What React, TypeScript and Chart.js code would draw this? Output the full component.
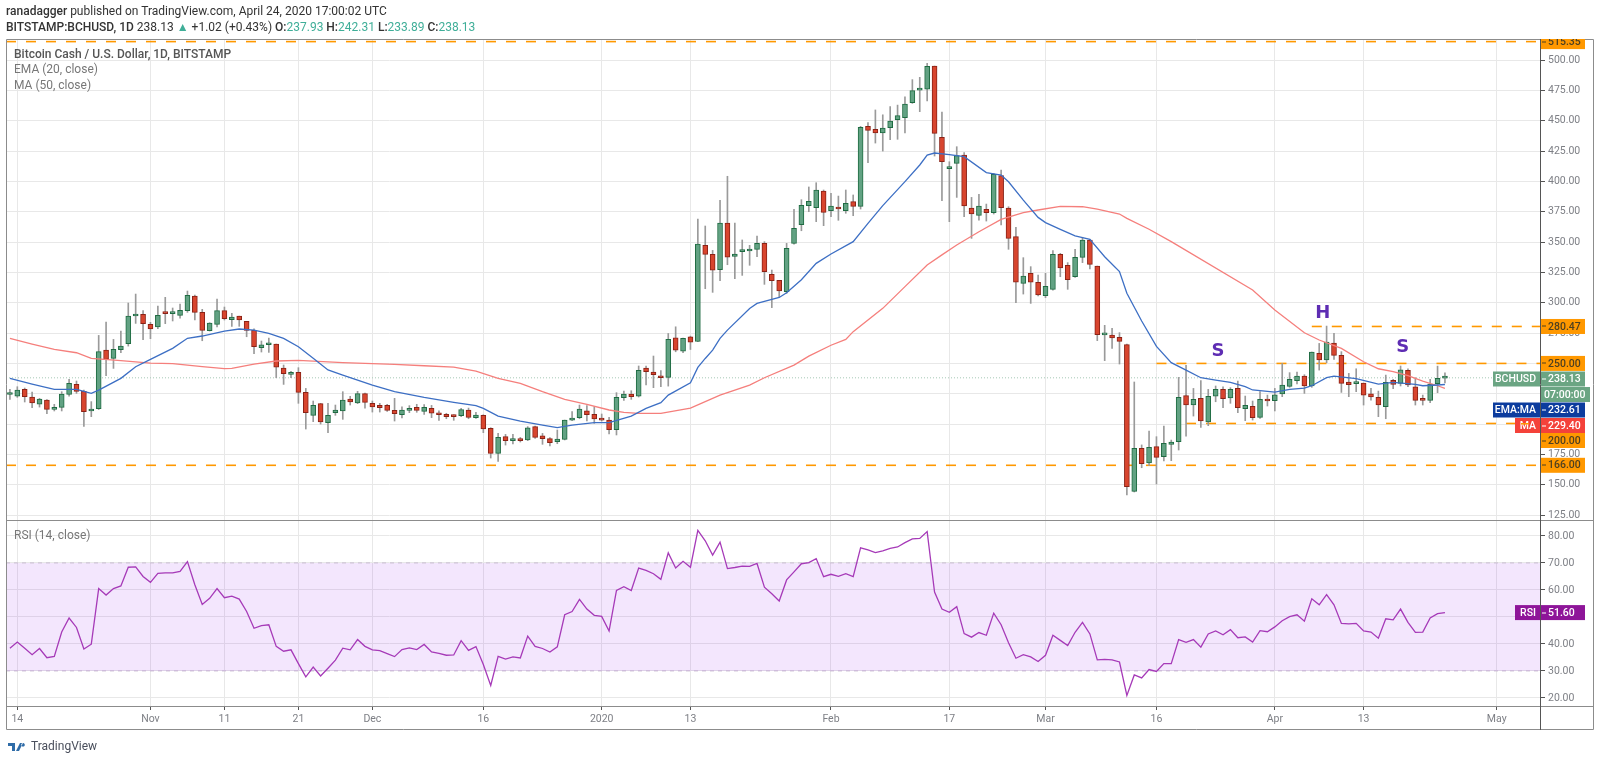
import React, { useEffect, useRef } from 'react'
import { Chart, registerables } from 'chart.js'

Chart.register(...registerables)

// day 0 is 14 Oct 2019, one candle per day
const firstDay = -1
const opens = [
  224.4, 223.1, 228.6, 222.3, 216.5, 219.8, 212.1, 213.8, 224.5, 232.7, 227,
  210.8, 212.7, 261, 254.2, 261.3, 266.3, 289.1, 290.5, 282.2, 280,
  292.1, 291, 289.6, 293.5, 305.6, 292.1, 277, 282.2, 293.5, 286,
  289, 284.7, 277.3, 263, 265.4, 266, 246.2, 241, 242.6, 226.1,
  207.2, 216.8, 201.1, 209.4, 210.8, 220.7, 217.4, 225.1, 217.1, 215.4,
  215.4, 211.3, 207.7, 211.3, 213.8, 210.5, 213, 208.9, 208, 207.2,
  206.9, 211.6, 205.3, 207.2, 196.5, 175.9, 189.6, 186.3, 187.7, 186.9,
  197.9, 190.2, 188, 185.5, 187.4, 203.3, 205.3, 211, 208, 204.2,
  203.3, 195.4, 221.8, 224.8, 223.1, 246.2, 242.9, 239.6, 238.5, 271.2,
  260.2, 272, 268.1, 347.4, 339.9, 327.3, 365.8, 338.3, 342.1, 342.7,
  344.1, 349, 323.5, 318.5, 309.2, 349, 364.4, 380, 378.4, 392.2,
  376, 378.2, 376, 383.4, 379.5, 445.5, 443, 440, 444.4, 451,
  452.6, 465, 475.4, 476.2, 495.2, 436.4, 410.6, 415, 421.8, 378.1,
  372.1, 377, 374.3, 404.8, 378.1, 354.5, 316, 324.3, 316.9, 305.9,
  311.1, 339.9, 330.9, 321.5, 337.5, 351.8, 330.3, 273.5, 273.4, 271.5,
  265.5, 144.5, 180, 167.9, 181.4, 173.1, 183.3, 185.5, 223.4, 215.7,
  221.2, 201.7, 223.1, 228.6, 221.5, 229.4, 212.7, 214.6, 205.5, 220.6,
  219.3, 224.8, 231.1, 235.8, 239.6, 231.4, 258.3, 252.8, 266.8, 256.6,
  234.7, 233.3, 233.8, 225, 222, 214.3, 236, 233.6, 244.3, 230.8,
  220.4, 219.5, 233.3, 237.93,
]
const closes = [
  224.6, 228.1, 222.6, 217.4, 220.7, 212.1, 213.2, 224.8, 233.6, 227, 210.2,
  212.4, 259.7, 253.4, 261.6, 264.3, 289.1, 290.7, 282.8, 278.4, 289.6,
  291, 291.6, 293.7, 306.1, 292.1, 277.3, 283.3, 293.5, 286.9, 288.3,
  285.8, 277.3, 263.8, 265.4, 266.5, 247, 241.5, 242.6, 226.1, 209.4,
  215.4, 201.7, 207.2, 211.6, 219.8, 218.2, 225.1, 217.9, 214.1, 213.5,
  211.3, 208.6, 211.6, 212.4, 211.3, 213.8, 208.9, 207.7, 206.1, 206.1,
  211.9, 205.5, 207.5, 195.9, 175.9, 189, 186.3, 187.7, 186.3, 196.8,
  189, 188, 184.7, 187.7, 203.3, 205, 212.4, 207.7, 204.2, 203.3,
  195.4, 222, 224.8, 222.6, 244.3, 243.2, 240.7, 238.2, 269.8, 261,
  270.6, 267.6, 348.4, 339.9, 326.8, 365.8, 337.7, 340.2, 343.8, 343,
  349, 325.7, 318.2, 309.7, 344.9, 361.4, 380.3, 383.6, 393, 374.6,
  379.8, 377.3, 382, 379.5, 444.6, 442.2, 440, 444.1, 449.9, 454.3,
  463.9, 474.9, 476.2, 495, 439.7, 416.3, 412.2, 421.3, 379.8, 373.2,
  379.8, 374.3, 405.9, 378.4, 353.1, 316.9, 322.1, 317.1, 306.4, 313.6,
  339.9, 328.7, 319.1, 337.5, 351.8, 331.7, 273.7, 274.4, 271, 268.2,
  148.3, 180, 167.4, 180.8, 172.6, 184.1, 185.2, 222, 215.7, 220.4,
  202.5, 222.8, 228.6, 220.9, 228.6, 213.5, 215.4, 205.3, 220.4, 219,
  224.2, 232.2, 236.9, 239.6, 231.4, 259.4, 252.8, 267.6, 256.6, 233.6,
  232.5, 233.8, 223.9, 222.3, 215.7, 234.4, 232.7, 244.8, 232.2, 219.5,
  219.6, 233, 237.7, 238.13,
]
const highs = [
  228.6, 230.8, 229.7, 226.4, 221.2, 220.1, 216.3, 226.7, 236.9, 235.5, 228.1,
  218.5, 273.1, 284.1, 269.8, 276.7, 299.8, 307.2, 293.5, 283.9, 297.3,
  304.5, 295.7, 299, 309.7, 306.4, 294.6, 283.6, 303.1, 296.5, 291.3,
  289, 284.7, 278.6, 268.5, 270.9, 266, 248.7, 243.5, 246.5, 229.4,
  219, 217.1, 217.1, 215.7, 226.7, 222.9, 227, 225.6, 219, 217.1,
  216.3, 221.2, 214.3, 215.2, 216.3, 216, 215.4, 211, 208.9, 207.7,
  213, 213.2, 209.7, 207.7, 197, 192.3, 191.5, 191.5, 189, 197.9,
  198.4, 192.3, 188.8, 195.1, 203.3, 210.2, 215.7, 215.2, 214.3, 208.3,
  205.5, 225.9, 227.3, 227.5, 247.9, 247.9, 256.1, 244, 274.7, 280.2,
  270.8, 272.5, 369, 363.3, 343.2, 384.5, 404.3, 365.8, 351.8, 347.4,
  355.1, 350.4, 327, 318.5, 349, 377, 385, 395.5, 399, 393,
  390.2, 388, 393, 388.9, 445.5, 448.5, 459, 455, 461.7, 463,
  469.9, 484, 485.9, 497.4, 495.2, 457.3, 416.3, 428.7, 423.8, 386.9,
  389.4, 381.4, 406.7, 409.5, 379.2, 362.2, 337.2, 329.8, 322.9, 324.3,
  343, 340.8, 333.1, 344, 354, 352.3, 330.3, 281.4, 278.9, 275.4,
  266, 234.7, 182.8, 194.3, 189.6, 198.4, 186.8, 238.5, 248.4, 229.4,
  235.8, 228.6, 231.4, 230.8, 230, 235.5, 223.1, 219, 226.7, 223.9,
  229.4, 250, 242.4, 242.9, 240.7, 259.4, 266.5, 280.8, 274.8, 259.7,
  241.8, 245.6, 233.8, 229.4, 227.2, 240.4, 236.9, 247.9, 245.6, 238.2,
  223.9, 236.9, 247.8, 242.31,
]
const lows = [
  220.4, 222, 218.2, 213.5, 214, 208.6, 210.8, 210.8, 223.1, 225.3, 198.1,
  206.1, 212, 239.9, 245.9, 258.9, 264.3, 283, 269.6, 270.4, 278.6,
  282.8, 285, 287.4, 292.1, 285.8, 268.7, 276.7, 280, 285.8, 280.6,
  280.6, 272, 258, 259.4, 259.1, 238.2, 232.7, 238.2, 217.1, 195.9,
  202, 200, 192.9, 207.2, 203.9, 215.7, 216.8, 213.2, 209.9, 209.9,
  210.5, 202.5, 205, 209.4, 209.7, 208, 205.3, 203.1, 204.4, 203.1,
  206.1, 204.4, 204.7, 192.9, 172, 169.3, 182.7, 183.6, 185.2, 186.3,
  188.2, 183.3, 181.9, 183.8, 186.9, 202.8, 204.4, 202.5, 200.6, 202.5,
  191.8, 191, 219.6, 220.4, 222.3, 232.2, 230, 230.8, 231.3, 259.6,
  258.8, 261.5, 268, 311.6, 308.6, 318.2, 331.4, 319.9, 322.6, 330.9,
  338, 315.2, 296, 304.5, 307.8, 348.4, 359.4, 375.1, 366.9, 363.6,
  371, 368, 373.8, 371.8, 377.3, 415.5, 431.7, 425.1, 434.5, 434.8,
  440, 464.4, 457.6, 466.4, 421, 384.2, 366.9, 386.9, 371, 353.1,
  368.2, 367.4, 373.2, 364.1, 344.1, 300.1, 307.2, 299.5, 305.6, 304.2,
  310.5, 321.5, 311.1, 321, 333.1, 327.9, 268.8, 252.3, 262.4, 249.5,
  141.5, 144, 164, 166, 150.6, 169.6, 169.8, 178.6, 190.1, 206.6,
  197.3, 198.7, 218.4, 213.5, 217.1, 209.4, 202.8, 203.3, 204.7, 214.9,
  210.8, 222.6, 230.3, 233, 225.3, 230.3, 244.5, 250.6, 253.3, 226.1,
  222.6, 226.7, 215.7, 219.8, 206.1, 204.4, 229.2, 231.4, 230.8, 215.7,
  215.7, 217.6, 225.9, 233.89,
]
const rsiValues = [
  38.4, 40.7, 38.4, 36, 38.3, 34.9, 35.4, 44.4, 49.6, 46.1, 38.1,
  39.9, 60.5, 58.1, 60.5, 61.5, 68.4, 68.5, 65, 62.8, 66.1,
  66.3, 66.3, 66.9, 70.5, 61.9, 54.6, 56.9, 60.5, 57.1, 57.7,
  56.6, 52, 45.8, 46.8, 47.1, 39.1, 37.3, 37.8, 32.7, 27.8,
  31.4, 28.1, 31, 34, 38.4, 37.8, 41.6, 39.1, 37.8, 37.5,
  36.4, 35.3, 37.9, 38.5, 37.9, 39.8, 37, 36.5, 35.8, 35.9,
  41.2, 37.6, 39, 32.4, 24.6, 35.4, 34.4, 35.2, 34.8, 42.9,
  39.1, 38.3, 37, 38.9, 50.8, 52, 56.5, 52.9, 50.6, 50.2,
  44.8, 59.8, 61.2, 59.8, 68.1, 67.2, 66, 63.9, 73.7, 68.1,
  70.6, 68.4, 82.1, 78.2, 72.9, 77.7, 67.9, 68.3, 68.8, 68.7,
  69.8, 61, 58.6, 55.9, 63.7, 66.7, 69.7, 70.1, 71.6, 64.9,
  65.8, 65, 66, 64.9, 75.6, 74.8, 73.8, 74.5, 75.4, 75.9,
  77.5, 78.9, 79.1, 81.6, 59.2, 52.9, 51.7, 53.8, 43.8, 42.5,
  44.2, 43.2, 51.4, 47.1, 40.4, 34.7, 36, 35.2, 33.5, 35.8,
  43.2, 41.3, 39.4, 44.3, 48, 43.7, 34.1, 34.3, 34.1, 33.3,
  20.9, 28.5, 27.4, 30.5, 29.8, 32.7, 32.7, 41.6, 40.6, 41.6,
  38.8, 43.7, 44.8, 43.4, 45.3, 42.3, 42.6, 40.7, 44.9, 44.5,
  46.3, 48.6, 50.1, 50.8, 48.4, 56.7, 54.5, 58.3, 54.5, 47.6,
  47.4, 47.6, 44.8, 44.4, 42.1, 49.3, 48.9, 52.9, 48, 44.3,
  44.4, 49.6, 51.2, 51.6,
]
const emaDays = [
  -1, 2, 5, 8, 10, 11, 14, 16, 18, 21, 23, 25, 28, 30, 32, 34, 36, 38, 40, 42, 44, 48, 51, 55, 59, 62, 63, 65,
  68, 71, 73, 75, 78, 80, 83, 85, 87, 88, 91, 92, 93, 94, 95, 96, 99, 100, 103, 104, 106, 108, 110, 113, 115,
  117, 120, 122, 123, 124, 126, 128, 131, 133, 134, 136, 138, 139, 141, 143, 145, 147, 149, 150, 152, 154,
  156, 158, 160, 162, 164, 166, 167, 170, 172, 174, 175, 177, 178, 181, 184, 186, 189, 190, 192, 193,
]
const emaValues = [
  237.7, 233, 228.6, 228.6, 225.3, 228, 237.7, 247.3, 253.4, 262.4, 270.7, 272.6, 276.7, 278.4, 277.5, 274.8,
  270.7, 263.8, 254.2, 244.6, 240.4, 232.2, 226.7, 222, 217.9, 215.2, 213, 206.6, 202.5, 199.2, 197, 199.2,
  201.2, 201.2, 206.6, 213, 217.6, 223.9, 234.1, 246.7, 254.1, 261, 270.6, 277.5, 295.3, 299.5, 304.4, 308.3,
  319, 332.5, 340.2, 350.4, 365.5, 380.1, 399.9, 413.6, 421.8, 423.5, 422.1, 420.5, 407.3, 405.3, 399.8, 384.7,
  370.4, 366.1, 360.6, 355.1, 352.3, 338, 325.7, 307.8, 285, 264, 250.6, 244.5, 238.2, 236.3, 234.4, 230.8,
  228.1, 226.4, 228.6, 229.7, 231.6, 238.2, 239.6, 237.4, 233, 234.4, 232.7, 231.6, 232.2, 232.61,
]
const maDays = [
  -1, 2, 5, 8, 10, 14, 18, 21, 25, 28, 29, 32, 35, 38, 42, 44, 48, 51, 55, 59, 62, 65, 68, 71, 74, 77, 80, 82,
  84, 87, 91, 95, 99, 101, 105, 107, 110, 112, 113, 117, 120, 123, 125, 127, 130, 133, 136, 138, 141, 144, 146,
  149, 150, 153, 156, 167, 170, 174, 176, 179, 182, 184, 186, 188, 190, 192, 193,
]
const maValues = [
  270.7, 266, 261.6, 258.8, 254.2, 252.3, 250.3, 249.8, 247.3, 245.7, 245.9, 249.5, 252, 252.5, 251.2, 250.6,
  249.8, 249.2, 248.1, 247, 243.7, 237.7, 233.6, 226.7, 220.4, 216.3, 211.6, 209.7, 208.8, 208.8, 213.2, 223.9,
  232.1, 238.2, 248.6, 256, 265, 269.8, 276.2, 295.4, 313.3, 331.2, 339.5, 347.6, 358.6, 368.8, 374.3, 376.5,
  379.5, 379.2, 377.3, 373.2, 369.6, 360.6, 350.4, 310.5, 294, 275.3, 269.3, 262.4, 251.4, 245.6, 243.2, 239.9,
  235.5, 231.6, 229.4,
]
const priceTicks = [125, 150, 175, 200, 225, 250, 275, 300, 325, 350, 375, 400, 425, 450, 475, 500]
const rsiTicks = [20, 30, 40, 50, 60, 70, 80]
const timeDays = [0, 18, 28, 38, 48, 63, 79, 91, 110, 126, 139, 154, 170, 182, 200]
const timeLabels = ['14', 'Nov', '11', '21', 'Dec', '16', '2020', '13', 'Feb', '17', 'Mar', '16', 'Apr', '13', 'May']
const lastClose = 238.13
const levelValues = [515.35, 280.47, 250, 200.5, 166]
const levelStarts = [-1.53, 175, 154, 158, -1.53]
const noteLabels = ['S', 'H', 'S']
const noteDays = [162.3, 176.5, 187.3]
const notePrices = [260.2, 291.5, 263.5]

const xMin = -1.53
const xMax = 205.85
const upFill = '#62a283'
const upEdge = '#1f6b42'
const downFill = '#d8452e'
const downEdge = '#8a2216'
const grey = '#7d7f85'
const orange = '#ff9800'
const uiFont = 'Roboto, sans-serif'

const days = opens.map((_, i) => firstDay + i)
const isUp = opens.map((o, i) => closes[i] >= o)

const linePoints = (xs: number[], ys: number[]) => xs.map((x, i) => ({ x, y: ys[i] }))

const paneChrome = {
  id: 'paneChrome',
  afterDraw(chart: any) {
    const { ctx, scales } = chart
    const { y, rsi, x } = scales
    ctx.save()

    // pane frame
    ctx.strokeStyle = '#8c8c8c'
    ctx.lineWidth = 1
    ctx.beginPath()
    ctx.rect(6.5, 39.5, 1587, 690)
    ctx.moveTo(6, 520.5)
    ctx.lineTo(1594, 520.5)
    ctx.moveTo(6, 706.5)
    ctx.lineTo(1594, 706.5)
    ctx.stroke()
    ctx.strokeStyle = '#555555'
    ctx.beginPath()
    ctx.moveTo(1540.5, 39)
    ctx.lineTo(1540.5, 730)
    ctx.stroke()

    // head and shoulders notes
    ctx.font = 'bold 18px "DejaVu Sans", sans-serif'
    ctx.fillStyle = '#5e2db3'
    ctx.textAlign = 'center'
    ctx.textBaseline = 'middle'
    noteLabels.forEach((t, i) => {
      ctx.fillText(t, x.getPixelForValue(noteDays[i]), y.getPixelForValue(notePrices[i]))
    })

    // price tags on the axis
    const axisTag = (text: string, cy: number, fill: string, ink: string, right = 1585) => {
      ctx.fillStyle = fill
      ctx.fillRect(1541, cy - 7.5, right - 1541, 15)
      ctx.fillStyle = ink
      ctx.fillRect(1542, Math.round(cy) - 0.5, 4, 1)
      ctx.font = '500 10.5px ' + uiFont
      ctx.textAlign = 'left'
      ctx.textBaseline = 'middle'
      ctx.fillText(text, 1548, cy + 0.5)
    }
    const nameTag = (text: string, left: number, cy: number, fill: string) => {
      ctx.fillStyle = fill
      ctx.fillRect(left, cy - 7.5, 1540 - left, 15)
      ctx.fillStyle = '#ffffff'
      ctx.font = '500 10.5px ' + uiFont
      ctx.textAlign = 'right'
      ctx.textBaseline = 'middle'
      ctx.fillText(text, 1536, cy + 0.5)
    }
    const tagInk = '#4f4020'
    // top tag is cut by the pane edge
    ctx.save()
    ctx.beginPath()
    ctx.rect(1541, 39, 50, 20)
    ctx.clip()
    axisTag('515.35', y.getPixelForValue(levelValues[0]), orange, tagInk)
    ctx.restore()
    axisTag('280.47', y.getPixelForValue(levelValues[1]), orange, tagInk)
    axisTag('250.00', y.getPixelForValue(levelValues[2]), orange, tagInk)
    nameTag('BCHUSD', 1493, 379, '#6ba583')
    axisTag('238.13', 379, '#6ba583', '#ffffff')
    ctx.fillStyle = '#6ba583'
    ctx.fillRect(1541, 387, 49, 15)
    ctx.fillStyle = '#ffffff'
    ctx.font = '500 10.5px ' + uiFont
    ctx.textAlign = 'left'
    ctx.fillText('07:00:00', 1544, 395)
    nameTag('EMA:MA', 1493, 410, '#0c3c9e')
    axisTag('232.61', 410, '#0c3c9e', '#ffffff')
    nameTag('MA', 1515, 425.5, '#f4423a')
    axisTag('229.40', 425.5, '#f4423a', '#ffffff')
    // the 200 level runs through the MA tag
    ctx.fillStyle = orange
    ctx.fillRect(1521, 423, 8, 1.5)
    axisTag('200.00', 440.5, orange, tagInk)
    axisTag('166.00', y.getPixelForValue(levelValues[4]), orange, tagInk)
    const rsiY = rsi.getPixelForValue(rsiValues[rsiValues.length - 1])
    nameTag('RSI', 1515, rsiY, '#8e1599')
    axisTag('51.60', rsiY, '#8e1599', '#ffffff')

    ctx.restore()
  },
}

const App: React.FC = () => {
  const chartRef = useRef<HTMLCanvasElement | null>(null)

  useEffect(() => {
    if (!chartRef.current) return
    const ctx = chartRef.current.getContext('2d')
    if (!ctx) return

    const tickFont = { family: 'Roboto', size: 10.5 }

    const chart = new Chart(ctx, {
      type: 'bar',
      data: {
        datasets: [
          {
            type: 'line',
            label: 'EMA (20, close)',
            data: linePoints(emaDays, emaValues),
            borderColor: '#3d6fc4',
            borderWidth: 1.3,
            pointRadius: 0,
            yAxisID: 'y',
            order: 0,
          },
          {
            type: 'line',
            label: 'MA (50, close)',
            data: linePoints(maDays, maValues),
            borderColor: '#f57f7c',
            borderWidth: 1.3,
            pointRadius: 0,
            yAxisID: 'y',
            order: 0,
          },
          {
            label: 'bodies',
            data: days.map((d, i) => ({ x: d, y: [opens[i], closes[i]] })),
            backgroundColor: isUp.map((u) => (u ? upFill : downFill)),
            borderColor: isUp.map((u) => (u ? upEdge : downEdge)),
            borderWidth: 1,
            borderSkipped: false,
            barThickness: 5,
            minBarLength: 2,
            grouped: false,
            yAxisID: 'y',
            order: 1,
          },
          {
            label: 'wicks',
            data: days.map((d, i) => ({ x: d, y: [lows[i], highs[i]] })),
            backgroundColor: '#9a9a9a',
            borderWidth: 0,
            barThickness: 1,
            grouped: false,
            yAxisID: 'y',
            order: 2,
          },
          ...levelValues.map((v, i) => ({
            type: 'line' as const,
            label: 'level ' + v,
            data: linePoints([levelStarts[i], xMax], [v, v]),
            borderColor: orange,
            borderWidth: 1.6,
            borderDash: [10, 10],
            pointRadius: 0,
            yAxisID: 'y',
            order: 3,
          })),
          {
            type: 'line',
            label: 'last close',
            data: linePoints([xMin, xMax], [lastClose, lastClose]),
            borderColor: '#a5c8b5',
            borderWidth: 1,
            borderDash: [1, 2],
            pointRadius: 0,
            yAxisID: 'y',
            order: 3,
          },
          {
            type: 'line',
            label: 'RSI (14, close)',
            data: linePoints(days, rsiValues),
            borderColor: '#a63ab8',
            borderWidth: 1.3,
            pointRadius: 0,
            yAxisID: 'rsi',
            order: 0,
          },
          {
            type: 'line',
            label: 'upper band',
            data: linePoints([xMin, xMax], [70, 70]),
            borderColor: '#c9bcd0',
            borderWidth: 1,
            borderDash: [4, 4],
            pointRadius: 0,
            fill: '+1',
            backgroundColor: 'rgba(153, 51, 238, 0.12)',
            yAxisID: 'rsi',
            order: 4,
          },
          {
            type: 'line',
            label: 'lower band',
            data: linePoints([xMin, xMax], [30, 30]),
            borderColor: '#c9bcd0',
            borderWidth: 1,
            borderDash: [4, 4],
            pointRadius: 0,
            yAxisID: 'rsi',
            order: 5,
          },
        ] as any,
      },
      options: {
        responsive: false,
        animation: false,
        events: [],
        layout: { padding: { left: 6, right: 6, top: 39, bottom: 33 } },
        plugins: { legend: { display: false }, tooltip: { enabled: false } },
        scales: {
          x: {
            type: 'linear',
            min: xMin,
            max: xMax,
            offset: false,
            afterBuildTicks: (scale: any) => {
              scale.ticks = timeDays.map((value) => ({ value }))
            },
            afterFit: (scale: any) => {
              scale.height = 24
            },
            grid: { color: '#e8e8e8', offset: false, tickLength: 4, tickColor: '#555555' },
            border: { display: false },
            ticks: {
              autoSkip: false,
              maxRotation: 0,
              color: grey,
              font: tickFont,
              padding: 3,
              callback: (value: any) => timeLabels[timeDays.indexOf(Number(value))],
            },
          },
          y: {
            type: 'linear',
            position: 'right',
            min: 120.9,
            max: 517.5,
            stack: 'panes',
            stackWeight: 481,
            afterBuildTicks: (scale: any) => {
              scale.ticks = priceTicks.map((value) => ({ value }))
            },
            afterFit: (scale: any) => {
              scale.width = 54
            },
            grid: { color: '#e8e8e8', tickLength: 5, tickColor: '#555555' },
            border: { display: false },
            ticks: {
              autoSkip: false,
              color: grey,
              font: tickFont,
              padding: 3,
              callback: (value: any) => Number(value).toFixed(2),
            },
          },
          rsi: {
            type: 'linear',
            position: 'right',
            min: 17,
            max: 85.9,
            stack: 'panes',
            stackWeight: 186,
            afterBuildTicks: (scale: any) => {
              scale.ticks = rsiTicks.map((value) => ({ value }))
            },
            afterFit: (scale: any) => {
              scale.width = 54
            },
            grid: { color: '#e8e8e8', tickLength: 5, tickColor: '#555555' },
            border: { display: false },
            ticks: {
              autoSkip: false,
              color: grey,
              font: tickFont,
              padding: 3,
              callback: (value: any) => Number(value).toFixed(2),
            },
          },
        },
      },
      plugins: [paneChrome],
    } as any)

    return () => {
      chart.destroy()
    }
  }, [])

  const note = (top: number, left: number, color: string, bold: boolean, text: string) => (
    <div
      style={{
        position: 'absolute',
        top,
        left,
        fontSize: 12,
        lineHeight: '16px',
        color,
        fontWeight: bold ? 500 : 400,
        whiteSpace: 'nowrap',
      }}
    >
      {text}
    </div>
  )
  const teal = { color: '#3fae98' }
  const strong = { fontWeight: 500 }

  return (
    <div style={{ position: 'absolute', left: 0, top: 0, width: 1600, height: 763, fontFamily: uiFont, overflow: 'hidden', background: '#fff' }}>
      <canvas ref={chartRef} width={1600} height={763} style={{ position: 'absolute', left: 0, top: 0 }} />
      <div style={{ position: 'absolute', top: 3, left: 6, fontSize: 12, lineHeight: '16px', color: '#333', whiteSpace: 'nowrap' }}>
        <b style={strong}>ranadagger</b> published on TradingView.com, April 24, 2020 17:00:02 UTC
      </div>
      <div style={{ position: 'absolute', top: 19, left: 6, fontSize: 12, lineHeight: '16px', color: '#333', whiteSpace: 'nowrap' }}>
        <b style={strong}>BITSTAMP:BCHUSD, 1D</b> 238.13 <span style={teal}>▲</span> +1.02 (+0.43%){' '}
        <b style={strong}>O:</b><span style={teal}>237.93</span> <b style={strong}>H:</b><span style={teal}>242.31</span>{' '}
        <b style={strong}>L:</b><span style={teal}>233.89</span> <b style={strong}>C:</b><span style={teal}>238.13</span>
      </div>
      {note(46, 14, '#555', true, 'Bitcoin Cash / U.S. Dollar, 1D, BITSTAMP')}
      {note(61, 14, '#777', false, 'EMA (20, close)')}
      {note(77, 14, '#777', false, 'MA (50, close)')}
      {note(527, 14, '#777', false, 'RSI (14, close)')}
      <div style={{ position: 'absolute', top: 738, left: 8, display: 'flex', alignItems: 'center', gap: 4, fontSize: 12, lineHeight: '16px', color: '#4a4f5c' }}>
        <svg width={19} height={12} viewBox="0 0 19 12">
          <path d="M0 3h7v8H4V6H0zM8 11l4-8h3l-4 8zM15 3a1.8 1.8 0 1 0 .01 0z" fill="#2f6ca8" />
        </svg>
        TradingView
      </div>
    </div>
  )
}

export default App
